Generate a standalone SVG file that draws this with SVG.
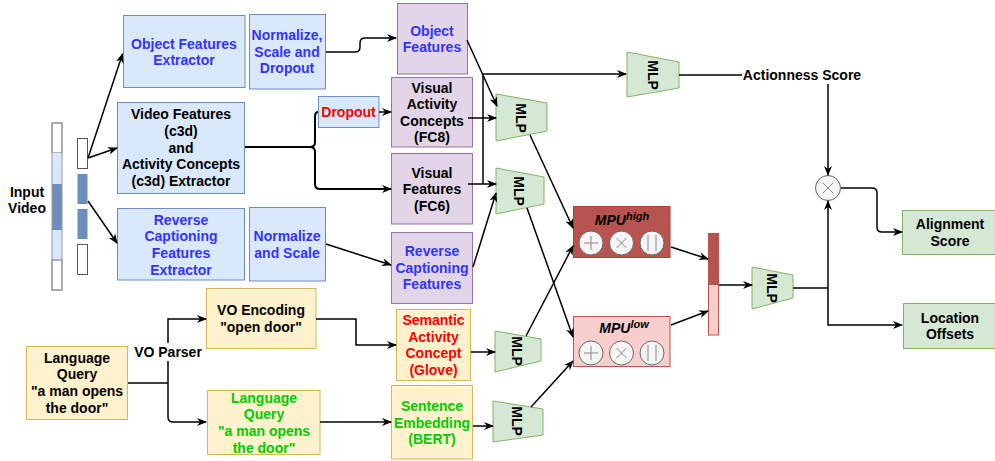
<svg xmlns="http://www.w3.org/2000/svg" width="995" height="461" viewBox="0 0 995 461">
<defs>
<marker id="ah" markerUnits="userSpaceOnUse" markerWidth="10" markerHeight="8" refX="9" refY="4" orient="auto">
<path d="M0,0 L10,4 L0,8 L3,4 z" fill="#000"/>
</marker>
<style>
text{font-family:"Liberation Sans",Arial,sans-serif;font-weight:bold;font-size:14px;text-anchor:middle;fill:#000}
.blue{fill:#dae8fc;stroke:#6c8ebf;stroke-width:1}
.purple{fill:#e1d5e7;stroke:#9673a6;stroke-width:1}
.yellow{fill:#fff2cc;stroke:#d6b656;stroke-width:1}
.green{fill:#d5e8d4;stroke:#82b366;stroke-width:1}
.tb{fill:#3333ff}
.tr{fill:#ff0000}
.tg{fill:#00cc00}
.c{fill:none;stroke:#000;stroke-width:1.5}
.a{marker-end:url(#ah)}
.op{fill:#f5f5f5;stroke:#666;stroke-width:1}
.sym{stroke:#888;stroke-width:1;fill:none}
</style>
</defs>
<rect width="995" height="461" fill="#fff"/>

<g id="input-video">
<rect x="52" y="123" width="10" height="30" fill="#fff" stroke="#777"/>
<rect x="52" y="153" width="10" height="31" fill="#dae8fc" stroke="none"/>
<rect x="52" y="184" width="10" height="46" fill="#6c8ebf" stroke="none"/>
<rect x="52" y="230" width="10" height="30" fill="#dae8fc" stroke="none"/>
<rect x="52" y="260" width="10" height="30" fill="#fff" stroke="#777"/>
<rect x="52" y="123" width="10" height="167" fill="none" stroke="#999"/>
<rect x="77.5" y="138.5" width="10" height="30" fill="#fff" stroke="#555"/>
<rect x="77.5" y="174" width="10" height="30" fill="#6c8ebf" stroke="none"/>
<rect x="77.5" y="209" width="10" height="30" fill="#6c8ebf" stroke="none"/>
<rect x="77.5" y="244.5" width="10" height="30" fill="#fff" stroke="#555"/>
<text x="27" y="197">Input</text>
<text x="27" y="213">Video</text>
</g>

<g id="object-features-extractor">
<rect class="blue" x="123.5" y="15.5" width="121.5" height="72"/>
<text class="tb" x="184" y="48.5">Object Features</text>
<text class="tb" x="184" y="65">Extractor</text>
</g>
<g id="normalize-scale-dropout">
<rect class="blue" x="249.5" y="14.5" width="76" height="74.5"/>
<text class="tb" x="287" y="40">Normalize,</text>
<text class="tb" x="287" y="56.5">Scale and</text>
<text class="tb" x="287" y="73">Dropout</text>
</g>
<g id="video-features-extractor">
<rect class="blue" x="117.5" y="102.5" width="127" height="91"/>
<text x="181" y="119">Video Features</text>
<text x="181" y="136">(c3d)</text>
<text x="181" y="152.5">and</text>
<text x="181" y="169">Activity Concepts</text>
<text x="181" y="186">(c3d) Extractor</text>
</g>
<g id="reverse-captioning-extractor">
<rect class="blue" x="117.5" y="208.5" width="127" height="71.5"/>
<text class="tb" x="181" y="224.5">Reverse</text>
<text class="tb" x="181" y="241">Captioning</text>
<text class="tb" x="181" y="258">Features</text>
<text class="tb" x="181" y="274.5">Extractor</text>
</g>
<g id="normalize-scale">
<rect class="blue" x="249.5" y="207.5" width="76" height="73.5"/>
<text class="tb" x="287" y="241">Normalize</text>
<text class="tb" x="287" y="258">and Scale</text>
</g>
<g id="dropout">
<rect class="blue" x="318.5" y="96.5" width="60.5" height="31"/>
<text class="tr" x="348.5" y="117">Dropout</text>
</g>
<g id="object-features">
<rect class="purple" x="397.5" y="3.5" width="70" height="70.5"/>
<text class="tb" x="432" y="35.5">Object</text>
<text class="tb" x="432" y="52">Features</text>
</g>
<g id="visual-activity-concepts">
<rect class="purple" x="391.5" y="77.5" width="81" height="69.5"/>
<text x="432" y="92.5">Visual</text>
<text x="432" y="109">Activity</text>
<text x="432" y="125.5">Concepts</text>
<text x="432" y="142">(FC8)</text>
</g>
<g id="visual-features">
<rect class="purple" x="391.5" y="153.5" width="81" height="70.5"/>
<text x="432" y="177.5">Visual</text>
<text x="432" y="194">Features</text>
<text x="432" y="210.5">(FC6)</text>
</g>
<g id="reverse-captioning-features">
<rect class="purple" x="391.5" y="232.5" width="81" height="71"/>
<text class="tb" x="432" y="256">Reverse</text>
<text class="tb" x="432" y="272.5">Captioning</text>
<text class="tb" x="432" y="289">Features</text>
</g>
<g id="semantic-activity-concept">
<rect class="yellow" x="396.5" y="309.5" width="74" height="71"/>
<text class="tr" x="433.5" y="324.5">Semantic</text>
<text class="tr" x="433.5" y="341.5">Activity</text>
<text class="tr" x="433.5" y="358">Concept</text>
<text class="tr" x="433.5" y="374.5">(Glove)</text>
</g>
<g id="sentence-embedding">
<rect class="yellow" x="391.5" y="385.5" width="81" height="73.5"/>
<text class="tg" x="432" y="411">Sentence</text>
<text class="tg" x="432" y="427.5">Embedding</text>
<text class="tg" x="432" y="444">(BERT)</text>
</g>
<g id="language-query">
<rect class="yellow" x="26.5" y="346.5" width="101" height="73"/>
<text x="77" y="362.5">Language</text>
<text x="77" y="379">Query</text>
<text x="77" y="396">"a man opens</text>
<text x="77" y="412.5">the door"</text>
</g>
<g id="vo-encoding">
<rect class="yellow" x="206.5" y="288.5" width="109.5" height="60"/>
<text x="261" y="315">VO Encoding</text>
<text x="261" y="331.5">"open door"</text>
</g>
<g id="language-query-green">
<rect class="yellow" x="207.5" y="390.5" width="112.5" height="64"/>
<text class="tg" x="264" y="402.5">Language</text>
<text class="tg" x="264" y="419">Query</text>
<text class="tg" x="264" y="436">"a man opens</text>
<text class="tg" x="264" y="452.5">the door"</text>
</g>

<g id="mlp-top">
<path class="green" d="M627,52 L679,62 L679,88 L627,97 Z"/>
<text transform="translate(653,75) rotate(90)" y="5">MLP</text>
</g>
<g id="mlp-1">
<path class="green" d="M496,94 L547,103 L547,131 L496,141 Z"/>
<text transform="translate(521,118) rotate(90)" y="5">MLP</text>
</g>
<g id="mlp-2">
<path class="green" d="M496,168 L544,177 L544,204 L496,214 Z"/>
<text transform="translate(519,191) rotate(90)" y="5">MLP</text>
</g>
<g id="mlp-3">
<path class="green" d="M495,331 L541,339 L541,361 L495,372 Z"/>
<text transform="translate(517,351) rotate(90)" y="5">MLP</text>
</g>
<g id="mlp-4">
<path class="green" d="M493,401 L543,409 L543,435 L493,442 Z"/>
<text transform="translate(517,421) rotate(90)" y="5">MLP</text>
</g>
<g id="mlp-5">
<path class="green" d="M752,267 L793,275 L793,298 L752,309 Z"/>
<text transform="translate(772,288) rotate(90)" y="5">MLP</text>
</g>

<g id="mpu-high">
<rect x="573.5" y="206.5" width="96.5" height="51" fill="#b85450" stroke="#ae4132"/>
<text x="622" y="225" font-style="italic">MPU<tspan font-size="11" dy="-5">high</tspan></text>
<circle class="op" cx="591" cy="243" r="12"/>
<path class="sym" d="M584,243 H598 M591,236 V250"/>
<circle class="op" cx="621.5" cy="243" r="12"/>
<path class="sym" d="M616.5,238 L626.5,248 M626.5,238 L616.5,248"/>
<circle class="op" cx="652" cy="243" r="12"/>
<path class="sym" d="M648,235 V251 M656,235 V251"/>
</g>
<g id="mpu-low">
<rect x="573.5" y="316.5" width="96.5" height="50" fill="#f8cecc" stroke="#b85450"/>
<text x="624" y="333" font-style="italic">MPU<tspan font-size="11" dy="-5">low</tspan></text>
<circle class="op" cx="591" cy="353" r="12"/>
<path class="sym" d="M584,353 H598 M591,346 V360"/>
<circle class="op" cx="621.5" cy="353" r="12"/>
<path class="sym" d="M616.5,348 L626.5,358 M626.5,348 L616.5,358"/>
<circle class="op" cx="652" cy="353" r="12"/>
<path class="sym" d="M648,345 V361 M656,345 V361"/>
</g>
<g id="concat">
<rect x="708.5" y="233.5" width="10" height="51" fill="#b85450" stroke="#b85450"/>
<rect x="708.5" y="284.5" width="10" height="50.5" fill="#f8cecc" stroke="#b85450"/>
</g>
<g id="multiply">
<circle class="op" cx="828" cy="188" r="12.5"/>
<path class="sym" d="M823,183 L833,193 M833,183 L823,193"/>
</g>
<g id="alignment-score">
<rect class="green" x="902.5" y="210.5" width="93" height="44"/>
<text x="950" y="229">Alignment</text>
<text x="950" y="245.5">Score</text>
</g>
<g id="location-offsets">
<rect class="green" x="903.5" y="303.5" width="92" height="45"/>
<text x="950" y="322.5">Location</text>
<text x="950" y="339">Offsets</text>
</g>
<g id="actionness-score">
<text x="802" y="80">Actionness Score</text>
</g>

<g id="connectors">
<path class="c a" d="M88,158 L122.5,54"/>
<path class="c a" d="M88,158 L117,148"/>
<path class="c a" d="M88,201 L117,243"/>
<path class="c a" d="M326,52 L355,52 Q360,52 360,47 L360,43 Q360,38 365,38 L396,38"/>
<path class="c" style="stroke-width:2" d="M245,147 L310,147 Q315,147 315,142 L315,117 Q315,112 318,112"/>
<path class="c a" style="stroke-width:2" d="M310,147 Q315,147 315,152 L315,184 Q315,189 320,189 L391,189"/>
<path class="c a" d="M379,112 L391,112"/>
<path class="c a" d="M467,40 L497,106"/>
<path class="c a" d="M468,118 L496,118"/>
<path class="c a" d="M468,184 L496,184"/>
<path class="c a" d="M483,184 L483,74 L626,74"/>
<path class="c a" d="M473,267 L496,193"/>
<path class="c a" d="M326,244 L391,265"/>
<path class="c a" d="M530,135 L573,228"/>
<path class="c a" d="M527,208 L573,337"/>
<path class="c a" d="M526,336 L573,246"/>
<path class="c a" d="M531,407 L573,361"/>
<path class="c a" d="M671,247 L708,259"/>
<path class="c a" d="M671,325 L708,311"/>
<path class="c a" d="M719,285 L752,285"/>
<path class="c" d="M793,288 L828,288"/>
<path class="c a" d="M828,288 L828,201"/>
<path class="c a" d="M828,288 L828,325 L902,325"/>
<path class="c a" d="M841,188 L872,188 Q877,188 877,193 L877,227 Q877,232 882,232 L902,232"/>
<path class="c" d="M679,75 L742,75"/>
<path class="c a" d="M828,84 L828,175"/>
<path class="c" d="M128,383 L168,383"/>
<path class="c a" d="M168,383 L168,319 L206,319"/>
<path class="c a" d="M168,383 L168,417 Q168,422 173,422 L206,422"/>
<path class="c a" d="M316,319 L356,319 L356,345 L396,345"/>
<path class="c a" d="M320,422 L391,422"/>
<path class="c a" d="M471,352 L495,352"/>
<path class="c a" d="M473,426 L493,426"/>
<rect x="133" y="343" width="70" height="18" fill="#fff"/>
<text x="168" y="356.5">VO Parser</text>
</g>
</svg>
